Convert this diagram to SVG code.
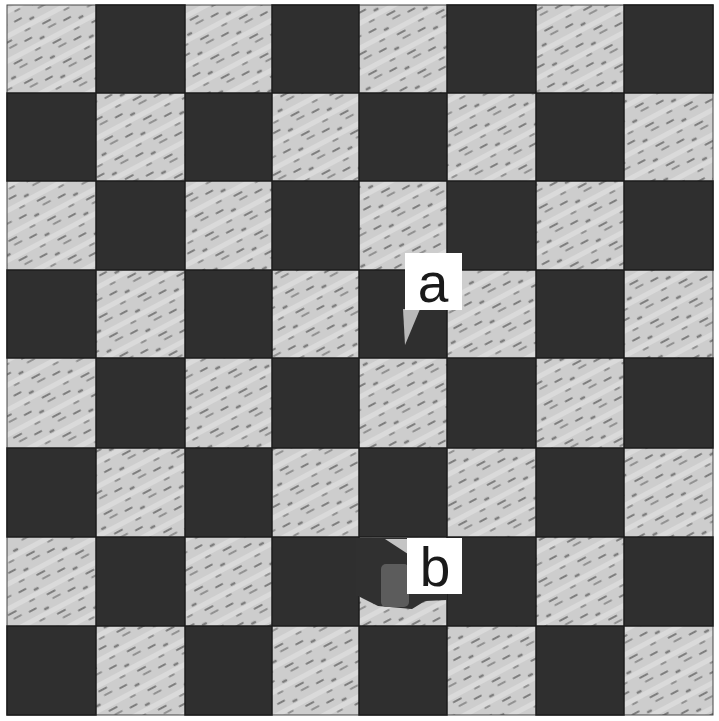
<svg xmlns="http://www.w3.org/2000/svg" width="719" height="721" viewBox="0 0 719 721">
<defs>
<pattern id="tex" width="44" height="22" patternUnits="userSpaceOnUse" patternTransform="rotate(-28)">
<rect width="44" height="22" fill="#cdcdcd"/>
<rect x="0" y="11" width="44" height="5" fill="#dadada"/>
<g stroke="#4a4a4a" stroke-linecap="round" stroke-opacity="0.6">
<line x1="3" y1="4" x2="10" y2="4" stroke-width="1.8"/>
<line x1="18" y1="9" x2="21" y2="9" stroke-width="2.6"/>
<line x1="30" y1="3" x2="38" y2="3" stroke-width="1.3"/>
<line x1="8" y1="17" x2="13" y2="17" stroke-width="1.6"/>
<line x1="27" y1="19" x2="35" y2="19" stroke-width="2"/>
</g>
</pattern>
<style>
.d{fill:#2f2f2f;stroke:#1c1c1c;stroke-width:1.5}
.box{fill:#ffffff}
.lbl{font-family:"Liberation Sans",Arial,sans-serif;font-size:55px;fill:#1a1a1a;text-anchor:middle}
</style>
</defs>
<rect width="719" height="721" fill="#ffffff"/>
<g id="board">
<rect x="7" y="5" width="706" height="710" fill="url(#tex)" stroke="#444" stroke-width="1"/>
<!-- row 0 -->
<rect class="d" x="96" y="5" width="89" height="88"/>
<rect class="d" x="272" y="5" width="87" height="88"/>
<rect class="d" x="447" y="5" width="89" height="88"/>
<rect class="d" x="624" y="5" width="89" height="88"/>
<!-- row 1 -->
<rect class="d" x="7" y="93" width="89" height="88"/>
<rect class="d" x="185" y="93" width="87" height="88"/>
<rect class="d" x="359" y="93" width="88" height="88"/>
<rect class="d" x="536" y="93" width="88" height="88"/>
<!-- row 2 -->
<rect class="d" x="96" y="181" width="89" height="89"/>
<rect class="d" x="272" y="181" width="87" height="89"/>
<rect class="d" x="447" y="181" width="89" height="89"/>
<rect class="d" x="624" y="181" width="89" height="89"/>
<!-- row 3 -->
<rect class="d" x="7" y="270" width="89" height="88"/>
<rect class="d" x="185" y="270" width="87" height="88"/>
<rect class="d" x="359" y="270" width="88" height="88"/>
<rect class="d" x="536" y="270" width="88" height="88"/>
<!-- row 4 -->
<rect class="d" x="96" y="358" width="89" height="90"/>
<rect class="d" x="272" y="358" width="87" height="90"/>
<rect class="d" x="447" y="358" width="89" height="90"/>
<rect class="d" x="624" y="358" width="89" height="90"/>
<!-- row 5 -->
<rect class="d" x="7" y="448" width="89" height="89"/>
<rect class="d" x="185" y="448" width="87" height="89"/>
<rect class="d" x="359" y="448" width="88" height="89"/>
<rect class="d" x="536" y="448" width="88" height="89"/>
<!-- row 6 -->
<rect class="d" x="96" y="537" width="89" height="89"/>
<rect class="d" x="272" y="537" width="87" height="89"/>
<rect class="d" x="447" y="537" width="89" height="89"/>
<rect class="d" x="624" y="537" width="89" height="89"/>
<!-- row 7 -->
<rect class="d" x="7" y="626" width="89" height="89"/>
<rect class="d" x="185" y="626" width="87" height="89"/>
<rect class="d" x="359" y="626" width="88" height="89"/>
<rect class="d" x="536" y="626" width="88" height="89"/>
<!-- shadow over row 6, col 4 -->
<path d="M356,538 L447,538 L447,600 L425,601 L412,609 L378,606 L358,596 L356,596 Z" fill="#303030"/>
<rect x="381" y="564" width="28" height="43" rx="5" fill="#5c5c5c"/>
</g>
<g id="label-a">
<polygon points="403,309 420,309 405,345" fill="#b9b9b9"/>
<rect class="box" x="405" y="253" width="57" height="57"/>
<text class="lbl" x="433" y="302">a</text>
</g>
<g id="label-b">
<polygon points="385,539 408,539 408,554" fill="#c4c4c4"/>
<rect class="box" x="407" y="538" width="55" height="56"/>
<text class="lbl" x="435" y="586">b</text>
</g>
</svg>
